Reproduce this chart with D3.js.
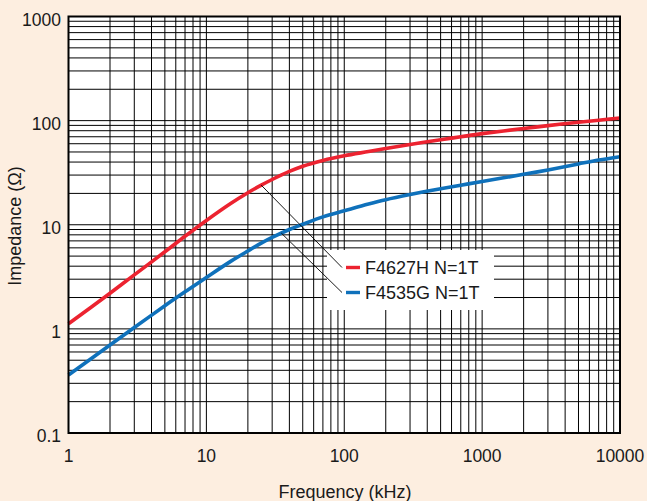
<!DOCTYPE html>
<html>
<head>
<meta charset="utf-8">
<script src="https://cdn.jsdelivr.net/npm/d3@7"></script>
<style>
  html, body { margin: 0; padding: 0; background: #fdeee0; }
  svg { display: block; }
  text { font-family: "Liberation Sans", Arial, Helvetica, sans-serif; fill: #1a1a1a; }
</style>
</head>
<body>
<svg id="chart" width="647" height="501"></svg>
<script>
// ---- data ----
const freqs   = [1, 2, 3, 5, 7, 10, 15, 20, 25, 30, 40, 50, 70, 100, 150, 200, 300, 500, 700, 1000, 2000, 3000, 5000, 7000, 10000];
const f4627H  = [1.12, 2.2, 3.3, 5.5, 7.75, 11.0, 16.0, 20.3, 24.0, 27.2, 32.5, 36.5, 41.5, 46.0, 50.5, 54, 59, 65.5, 70, 75, 84, 89.5, 96.5, 101, 106];
const f4535G  = [0.36, 0.7, 1.03, 1.67, 2.27, 3.12, 4.45, 5.6, 6.65, 7.55, 9.0, 10.1, 11.9, 13.6, 15.8, 17.4, 19.5, 22.2, 24, 26, 30.5, 33.6, 38.4, 41.8, 45];
const seriesNames = ["F4627H N=1T", "F4535G N=1T"];
const seriesColors = ["#ec2330", "#0f71bb"];
const xTickValues = [1, 10, 100, 1000, 10000];
const xTickLabels = ["1", "10", "100", "1000", "10000"];
const yTickValues = [0.1, 1, 10, 100, 1000];
const yTickLabels = ["0.1", "1", "10", "100", "1000"];
const leaderAnchors = [25, 35]; // frequencies where legend leader lines touch curves
const xTitle = "Frequency (kHz)";
const yTitle = "Impedance (Ω)";

(function () {
// ---- layout ----
const pL = 68.5, pR = 620, pT = 16.5, pB = 433;
const svg = d3.select("#chart");
const x = d3.scaleLog().domain([1, 10000]).range([pL, pR]);
const y = d3.scaleLog().domain([0.1, 1000]).range([pB, pT]);

// plot background
svg.append("rect").attr("x", pL).attr("y", pT)
  .attr("width", pR - pL).attr("height", pB - pT).attr("fill", "#fff");

// grid values 1..9 per decade
function gridVals(lo, hi) {
  const v = [];
  for (let d = lo; d < hi * 0.99; d *= 10) for (let k = 1; k <= 9; k++) v.push(d * k);
  v.push(hi);
  return v;
}
const g = svg.append("g").attr("stroke", "#000").attr("stroke-width", 1);
g.selectAll("line.vx").data(gridVals(1, 10000)).join("line")
  .attr("x1", d => x(d)).attr("x2", d => x(d)).attr("y1", pT).attr("y2", pB);
g.selectAll("line.hy").data(gridVals(0.1, 1000)).join("line")
  .attr("y1", d => y(d)).attr("y2", d => y(d)).attr("x1", pL).attr("x2", pR);

// curves
const line = d3.line().x(d => x(d[0])).y(d => y(d[1])).curve(d3.curveCatmullRom.alpha(0.5));
[f4627H, f4535G].forEach((vals, i) => {
  svg.append("path").datum(freqs.map((f, j) => [f, vals[j]]))
    .attr("d", line).attr("fill", "none")
    .attr("stroke", seriesColors[i]).attr("stroke-width", 3.6)
    .attr("stroke-linecap", "butt");
});

// legend box
const lg = svg.append("g");
lg.append("rect").attr("x", 327).attr("y", 250).attr("width", 167).attr("height", 60).attr("fill", "#fff");

// leader lines
const interp = (vals, f) => {
  const yl = d3.scaleLog().domain(freqs).range(vals.map(v => Math.log10(v)));
  return Math.pow(10, yl(f));
};
const legendY = [267.5, 292.5];
[f4627H, f4535G].forEach((vals, i) => {
  const fa = leaderAnchors[i];
  svg.append("line")
    .attr("x1", x(fa)).attr("y1", y(interp(vals, fa)))
    .attr("x2", 342).attr("y2", legendY[i])
    .attr("stroke", "#000").attr("stroke-width", 0.9);
  lg.append("line").attr("x1", 346).attr("x2", 360)
    .attr("y1", legendY[i]).attr("y2", legendY[i])
    .attr("stroke", seriesColors[i]).attr("stroke-width", 3.4);
  lg.append("text").attr("x", 365).attr("y", legendY[i] + 6.8)
    .attr("font-size", 18).text(seriesNames[i]);
});

// frame
svg.append("rect").attr("x", pL).attr("y", pT)
  .attr("width", pR - pL).attr("height", pB - pT)
  .attr("fill", "none").attr("stroke", "#000").attr("stroke-width", 2);

// axes labels
svg.append("g").selectAll("text").data(xTickValues).join("text")
  .attr("x", d => x(d)).attr("y", pB + 28.5)
  .attr("text-anchor", "middle").attr("font-size", 17.5)
  .text((d, i) => xTickLabels[i]);
svg.append("g").selectAll("text").data(yTickValues).join("text")
  .attr("x", pL - 7.5).attr("y", d => y(d) + 9)
  .attr("text-anchor", "end").attr("font-size", 17.5)
  .text((d, i) => yTickLabels[i]);

svg.append("text").attr("x", 345).attr("y", 498)
  .attr("text-anchor", "middle").attr("font-size", 18).text(xTitle);
svg.append("text").attr("transform", "translate(21,226) rotate(-90)")
  .attr("text-anchor", "middle").attr("font-size", 18).text(yTitle);
})();
</script>
</body>
</html>
